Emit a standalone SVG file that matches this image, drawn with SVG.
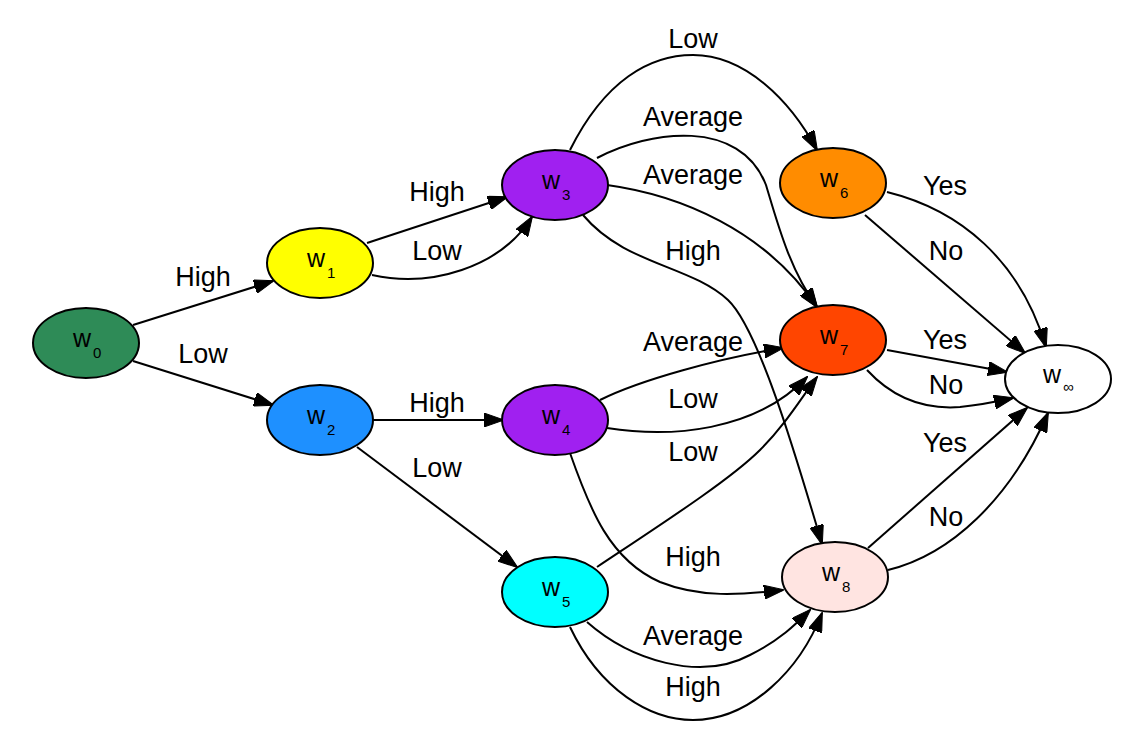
<svg xmlns="http://www.w3.org/2000/svg" width="1144" height="742" viewBox="0 0 1144 742">
<defs>
<marker id="ah" viewBox="0 0 20 14" refX="19" refY="7" markerWidth="20" markerHeight="14" markerUnits="userSpaceOnUse" orient="auto">
<polygon points="0,0 20,7 0,14" fill="#000" stroke="#000" stroke-width="1"/>
</marker>
<style>
.e{fill:none;stroke:#000;stroke-width:2;marker-end:url(#ah)}
.n{stroke:#000;stroke-width:2}
.nl{font-family:"Liberation Sans",Arial,sans-serif;font-size:25px;fill:#000}
.sub{font-size:15px}
.l{font-family:"Liberation Sans",Arial,sans-serif;font-size:27px;fill:#000;text-anchor:middle}
</style>
</defs>
<rect width="1144" height="742" fill="#fff"/>
<g id="connectors">
<path class="e" d="M133,325 L273,281"/>
<path class="e" d="M133,361 L273,405"/>
<path class="e" d="M367,243 L507,197"/>
<path class="e" d="M372,275 C430,288 500,268 532,217"/>
<path class="e" d="M373,420 L503,420"/>
<path class="e" d="M357,447 L517,567"/>
<path class="e" d="M570,150 C605,80 650,55 693,55 C745,55 790,100 817,150"/>
<path class="e" d="M597,158 C650,130 740,118 766,185 C778,225 790,270 817,307"/>
<path class="e" d="M607,185 C680,195 765,230 817,307"/>
<path class="e" d="M583,215 C625,265 690,265 728,300 C760,330 800,470 822,544"/>
<path class="e" d="M600,400 C640,380 720,358 783,348"/>
<path class="e" d="M607,428 C670,438 755,432 807,377"/>
<path class="e" d="M597,567 C660,525 730,480 760,450 C785,425 800,400 817,377"/>
<path class="e" d="M570,453 C590,510 610,560 660,582 C700,598 740,595 783,590"/>
<path class="e" d="M587,622 C630,660 700,682 750,655 C780,640 795,625 810,610"/>
<path class="e" d="M570,627 C600,690 650,720 693,720 C750,720 800,670 822,613"/>
<path class="e" d="M887,192 C960,210 1020,260 1046,347"/>
<path class="e" d="M865,215 L1025,353"/>
<path class="e" d="M887,350 L1007,372"/>
<path class="e" d="M867,370 C890,395 920,410 960,407 C980,405 995,402 1013,398"/>
<path class="e" d="M868,548 L1027,408"/>
<path class="e" d="M888,570 C950,555 1010,500 1048,413"/>
</g>
<g id="labels">
<text class="l" x="203" y="286">High</text>
<text class="l" x="203" y="363">Low</text>
<text class="l" x="437" y="201">High</text>
<text class="l" x="437" y="260">Low</text>
<text class="l" x="437" y="412">High</text>
<text class="l" x="437" y="477">Low</text>
<text class="l" x="693" y="48">Low</text>
<text class="l" x="693" y="126">Average</text>
<text class="l" x="693" y="184">Average</text>
<text class="l" x="693" y="260">High</text>
<text class="l" x="693" y="351">Average</text>
<text class="l" x="693" y="408">Low</text>
<text class="l" x="693" y="461">Low</text>
<text class="l" x="693" y="566">High</text>
<text class="l" x="693" y="645">Average</text>
<text class="l" x="693" y="696">High</text>
<text class="l" x="945" y="195">Yes</text>
<text class="l" x="946" y="260">No</text>
<text class="l" x="945" y="349">Yes</text>
<text class="l" x="946" y="394">No</text>
<text class="l" x="945" y="452">Yes</text>
<text class="l" x="946" y="526">No</text>
</g>
<g id="w0"><ellipse class="n" cx="86" cy="343" rx="53" ry="35" fill="#2E8B57"/><text class="nl" x="73" y="347">w<tspan class="sub" dx="2" dy="11">0</tspan></text></g>
<g id="w1"><ellipse class="n" cx="320" cy="263" rx="53" ry="35" fill="#FFFF00"/><text class="nl" x="307" y="267">w<tspan class="sub" dx="2" dy="11">1</tspan></text></g>
<g id="w2"><ellipse class="n" cx="320" cy="420" rx="53" ry="35" fill="#1E90FF"/><text class="nl" x="307" y="424">w<tspan class="sub" dx="2" dy="11">2</tspan></text></g>
<g id="w3"><ellipse class="n" cx="555" cy="185" rx="53" ry="35" fill="#A020F0"/><text class="nl" x="542" y="189">w<tspan class="sub" dx="2" dy="11">3</tspan></text></g>
<g id="w4"><ellipse class="n" cx="555" cy="420" rx="53" ry="35" fill="#A020F0"/><text class="nl" x="542" y="424">w<tspan class="sub" dx="2" dy="11">4</tspan></text></g>
<g id="w5"><ellipse class="n" cx="555" cy="592" rx="53" ry="35" fill="#00FFFF"/><text class="nl" x="542" y="596">w<tspan class="sub" dx="2" dy="11">5</tspan></text></g>
<g id="w6"><ellipse class="n" cx="833" cy="183" rx="53" ry="35" fill="#FF8C00"/><text class="nl" x="820" y="187">w<tspan class="sub" dx="2" dy="11">6</tspan></text></g>
<g id="w7"><ellipse class="n" cx="833" cy="340" rx="53" ry="35" fill="#FF4500"/><text class="nl" x="820" y="344">w<tspan class="sub" dx="2" dy="11">7</tspan></text></g>
<g id="w8"><ellipse class="n" cx="835" cy="577" rx="53" ry="35" fill="#FFE4E1"/><text class="nl" x="822" y="581">w<tspan class="sub" dx="2" dy="11">8</tspan></text></g>
<g id="winf"><ellipse class="n" cx="1058" cy="379" rx="53" ry="34" fill="#FFFFFF"/><text class="nl" x="1043" y="383">w<tspan class="sub" font-size="12" dx="2" dy="9">∞</tspan></text></g>
</svg>
